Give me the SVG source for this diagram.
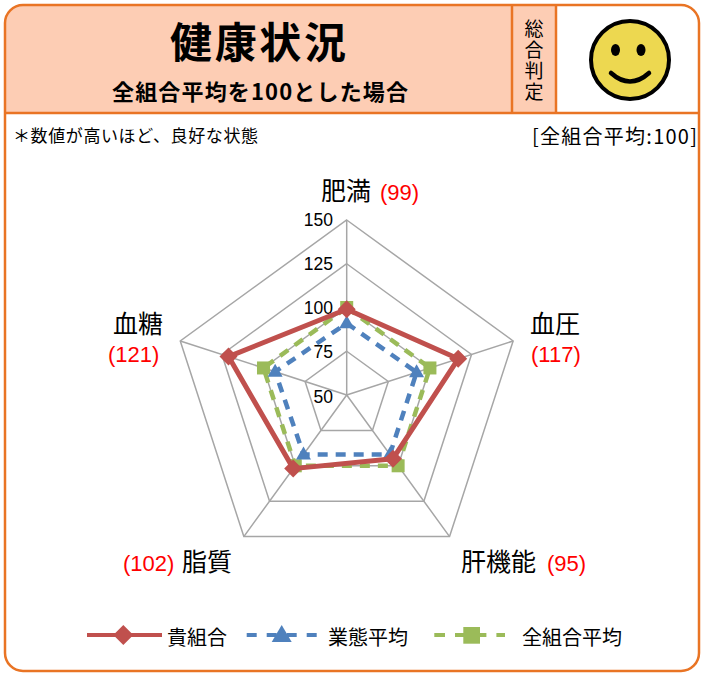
<svg xmlns="http://www.w3.org/2000/svg" width="702" height="673" viewBox="0 0 702 673">
<defs>
<style>
text { font-family: "Noto Sans CJK JP", "Noto Sans", sans-serif; fill:#000; }
.orl { stroke:#E97424; stroke-width:2.5; fill:none; }
.grid { fill:none; stroke:#A6A6A6; stroke-width:1.5; }
.tick { font-family:"Liberation Sans", Arial, sans-serif; font-size:17.5px; text-anchor:end; }
.axl { font-size:25px; }
.val { font-family:"Liberation Sans", Arial, sans-serif; font-size:22px; fill:#FF0000; }
.leg { font-size:20px; }
.red { fill:none; stroke:#C0504D; stroke-width:5; stroke-linejoin:round; }
.blue { fill:none; stroke:#4F81BD; stroke-width:4.5; stroke-dasharray:10 8; }
.green { fill:none; stroke:#9BBB59; stroke-width:4.5; stroke-dasharray:10 8; }
</style>
<clipPath id="frame"><rect x="5" y="5" width="694" height="666" rx="18"/></clipPath>
<path id="dia" d="M0,-9 L9,0 L0,9 L-9,0Z" fill="#C0504D"/>
<path id="tri" d="M0,-8 L7.5,5 L-7.5,5Z" fill="#4F81BD"/>
<rect id="sq" x="-6.5" y="-6.5" width="13" height="13" fill="#9BBB59"/>
</defs>

<rect x="0" y="0" width="702" height="673" fill="#FFFFFF"/>

<g id="header">
  <g clip-path="url(#frame)">
    <rect x="0" y="0" width="556" height="113" fill="#FDCDB4"/>
  </g>
  <line class="orl" x1="5" y1="113" x2="699" y2="113"/>
  <line class="orl" x1="512" y1="5" x2="512" y2="113"/>
  <line class="orl" x1="556" y1="5" x2="556" y2="113"/>
  <text x="258" y="58" font-size="42" font-weight="bold" text-anchor="middle" textLength="176" lengthAdjust="spacing">健康状況</text>
  <text x="260" y="100" font-size="22" font-weight="bold" text-anchor="middle" textLength="296" lengthAdjust="spacing">全組合平均を100とした場合</text>
  <text x="534" y="19" font-size="19" writing-mode="vertical-rl" letter-spacing="2">総合判定</text>
</g>

<g id="smiley">
  <circle cx="630" cy="60" r="39" fill="#EDD850" stroke="#000" stroke-width="4"/>
  <ellipse cx="615.5" cy="50" rx="4.5" ry="6" fill="#000"/>
  <ellipse cx="641" cy="50" rx="4.5" ry="6" fill="#000"/>
  <path d="M611,73 Q630,90 649,73" fill="none" stroke="#000" stroke-width="4.5" stroke-linecap="round"/>
</g>

<g id="notes">
  <text x="13" y="142" font-size="17" textLength="245" lengthAdjust="spacing">＊数値が高いほど、良好な状態</text>
  <text x="697" y="144" font-size="20" text-anchor="end" textLength="165" lengthAdjust="spacing">[全組合平均:100]</text>
</g>

<g id="grid">
  <polygon class="grid" points="346.7,351.25 388.31,381.48 372.42,430.39 320.98,430.39 305.09,381.48"/>
  <polygon class="grid" points="346.7,307.5 429.92,367.96 398.13,465.79 295.27,465.79 263.48,367.96"/>
  <polygon class="grid" points="346.7,263.75 471.53,354.44 423.85,501.18 269.55,501.18 221.87,354.44"/>
  <polygon class="grid" points="346.7,220 513.13,340.92 449.56,536.58 243.84,536.58 180.27,340.92"/>
  <path class="grid" d="M346.7,395 L346.7,220 M346.7,395 L513.13,340.92 M346.7,395 L449.56,536.58 M346.7,395 L243.84,536.58 M346.7,395 L180.27,340.92"/>
</g>

<g id="ticks">
  <text class="tick" x="333" y="226">150</text>
  <text class="tick" x="333" y="270">125</text>
  <text class="tick" x="333" y="314">100</text>
  <text class="tick" x="333" y="358">75</text>
  <text class="tick" x="333" y="403">50</text>
</g>

<g id="axis-labels">
  <g id="label-himan">
    <text class="axl" x="321" y="200">肥満</text>
    <text class="val" x="380" y="200">(99)</text>
  </g>
  <g id="label-ketsuatsu">
    <text class="axl" x="530" y="333">血圧</text>
    <text class="val" x="531" y="362">(117)</text>
  </g>
  <g id="label-kanki">
    <text class="axl" x="461" y="571">肝機能</text>
    <text class="val" x="547" y="571">(95)</text>
  </g>
  <g id="label-shishitsu">
    <text class="val" x="123" y="571">(102)</text>
    <text class="axl" x="182" y="571">脂質</text>
  </g>
  <g id="label-kettou">
    <text class="axl" x="113" y="333">血糖</text>
    <text class="val" x="108" y="362">(121)</text>
  </g>
</g>

<g id="connectors">
  <g id="series-zenkumiai">
    <polygon class="green" points="346.7,307.5 429.92,367.96 398.13,465.79 295.27,465.79 263.48,367.96"/>
    <use href="#sq" x="346.7" y="307.5"/>
    <use href="#sq" x="429.92" y="367.96"/>
    <use href="#sq" x="398.13" y="465.79"/>
    <use href="#sq" x="295.27" y="465.79"/>
    <use href="#sq" x="263.48" y="367.96"/>
  </g>
  <g id="series-gyotai">
    <polygon class="blue" points="346.7,323.25 416.6,372.29 389.9,454.46 303.5,454.46 275.13,371.75"/>
    <use href="#tri" x="346.7" y="323.25"/>
    <use href="#tri" x="416.6" y="372.29"/>
    <use href="#tri" x="389.9" y="454.46"/>
    <use href="#tri" x="303.5" y="454.46"/>
    <use href="#tri" x="275.13" y="371.75"/>
  </g>
  <g id="series-kikumiai">
    <polygon class="red" points="346.7,309.25 458.21,358.77 392.99,458.71 293.21,468.62 228.53,356.6"/>
    <use href="#dia" x="346.7" y="309.25"/>
    <use href="#dia" x="458.21" y="358.77"/>
    <use href="#dia" x="392.99" y="458.71"/>
    <use href="#dia" x="293.21" y="468.62"/>
    <use href="#dia" x="228.53" y="356.6"/>
  </g>
</g>

<g id="legend">
  <line x1="87" y1="635" x2="162" y2="635" stroke="#C0504D" stroke-width="4"/>
  <path d="M123.3,625 L133.3,635 L123.3,645 L113.3,635Z" fill="#C0504D"/>
  <text class="leg" x="167" y="645">貴組合</text>
  <line x1="246.7" y1="635" x2="316.7" y2="635" stroke="#4F81BD" stroke-width="4" stroke-dasharray="10 10"/>
  <path d="M281.7,625 L291.7,642 L271.7,642Z" fill="#4F81BD"/>
  <text class="leg" x="328" y="645">業態平均</text>
  <line x1="434.3" y1="635" x2="505" y2="635" stroke="#9BBB59" stroke-width="4" stroke-dasharray="10.7 10"/>
  <rect x="463.3" y="627" width="16.7" height="16.7" fill="#9BBB59"/>
  <text class="leg" x="522" y="645">全組合平均</text>
</g>

<rect class="orl" x="5" y="5" width="694" height="666" rx="18"/>
</svg>
